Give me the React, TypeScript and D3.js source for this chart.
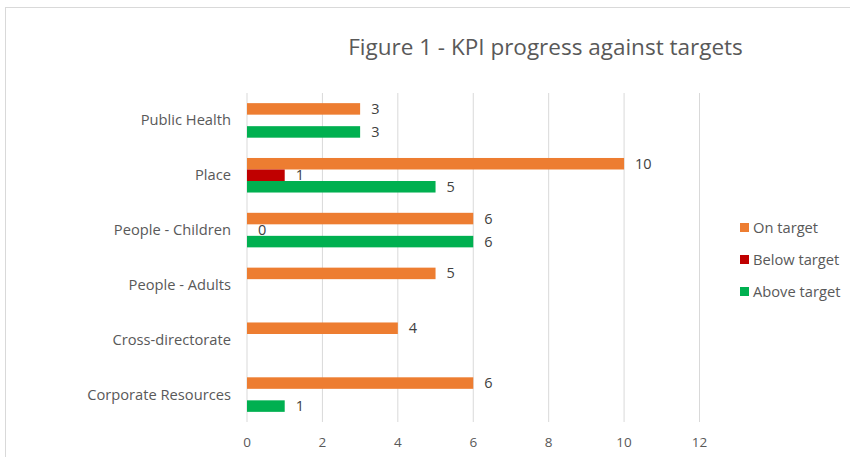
import React from "react";
import * as d3 from "d3";

const categories = ["Public Health", "Place", "People - Children", "People - Adults", "Cross-directorate", "Corporate Resources"];
const seriesNames = ["On target", "Below target", "Above target"];
const seriesColors = ["#ED7D31", "#C00000", "#00B050"];
const onTarget: (number | null)[] = [3, 10, 6, 5, 4, 6];
const belowTarget: (number | null)[] = [null, 1, 0, null, null, null];
const aboveTarget: (number | null)[] = [3, 5, 6, null, null, 1];
const xTicks = [0, 2, 4, 6, 8, 10, 12];
const title = "Figure 1 - KPI progress against targets";

const W = 850, H = 457;
const FONT = "'Open Sans', Lato, sans-serif";

export default function App() {
  const series = [onTarget, belowTarget, aboveTarget];
  const x = d3.scaleLinear().domain([0, 12]).range([247, 699.5]);
  const y = d3.scaleBand<string>().domain(categories).range([93, 422]).paddingInner(0.37).paddingOuter(0.185);
  const y2 = d3.scaleBand<number>().domain([0, 1, 2]).range([0, y.bandwidth()]);

  return (
    <svg width={W} height={H} style={{ position: "absolute", left: 0, top: 0 }} fontFamily={FONT}>
      <rect x={0} y={0} width={W} height={H} fill="#fff" />
      <rect x={5.5} y={7.5} width={W + 10} height={H + 10} fill="none" stroke="#D9D9D9" strokeWidth={1} />
      <text x={545.5} y={55} textAnchor="middle" fontSize={22.5} fill="#595959">{title}</text>
      {xTicks.map((t) => (
        <g key={t}>
          <line x1={x(t)} x2={x(t)} y1={93} y2={422} stroke="#D9D9D9" strokeWidth={1} />
          <text x={x(t)} y={447} textAnchor="middle" fontSize={13.5} fill="#595959">{t}</text>
        </g>
      ))}
      {categories.map((c, i) => (
        <g key={c}>
          <text x={231} y={(y(c) as number) + y.bandwidth() / 2 + 5} textAnchor="end" fontSize={14.7} fill="#595959">{c}</text>
          {series.map((s, j) => {
            const v = s[i];
            if (v === null) return null;
            const yy = (y(c) as number) + (y2(j) as number);
            return (
              <g key={j}>
                <rect x={x(0)} y={yy} width={x(v) - x(0)} height={y2.bandwidth()} fill={seriesColors[j]} />
                <text x={x(v) + 11} y={yy + y2.bandwidth() / 2 + 5} fontSize={14.5} fill="#404040">{v}</text>
              </g>
            );
          })}
        </g>
      ))}
      {seriesNames.map((n, j) => (
        <g key={n}>
          <rect x={740} y={223 + j * 32} width={9} height={9} fill={seriesColors[j]} />
          <text x={753} y={233 + j * 32} fontSize={14.7} fill="#595959">{n}</text>
        </g>
      ))}
    </svg>
  );
}
